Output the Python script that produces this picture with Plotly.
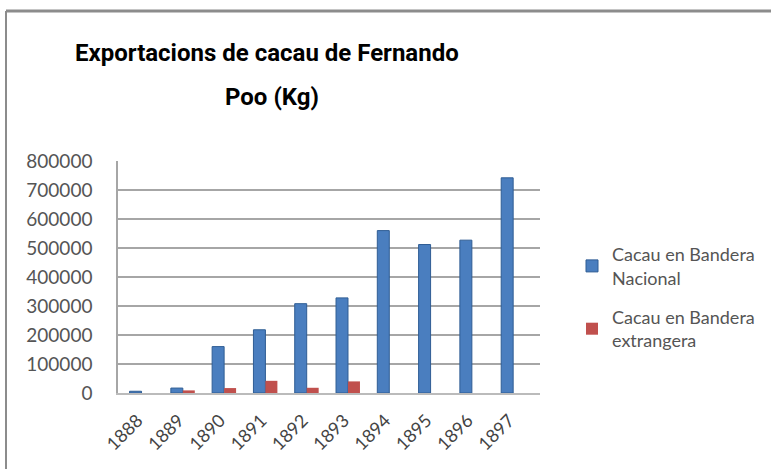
import plotly.graph_objects as go

years = ["1888", "1889", "1890", "1891", "1892", "1893", "1894", "1895", "1896", "1897"]
nacional = [6000, 17000, 160000, 218000, 308000, 328000, 560000, 512000, 527000, 742000]
extrangera = [0, 9000, 17000, 42000, 18000, 40000, 0, 0, 0, 0]
y_ticks = [0, 100000, 200000, 300000, 400000, 500000, 600000, 700000, 800000]
title_lines = ["Exportacions de cacau de Fernando", "Poo (Kg)"]

W, H = 771, 469
L, R, T, B = 118, 231, 161, 76
pw, ph = W - L - R, H - T - B

def px(x):
    return (x - L) / pw

def py(y):
    return (H - B - y) / ph

fig = go.Figure()
fig.add_trace(go.Bar(x=years, y=nacional, name="Cacau en Bandera<br>Nacional", legendgroup="a",
                     marker=dict(color="#4A7EBF", line=dict(color="#2F5D94", width=1))))
fig.add_trace(go.Bar(x=years, y=extrangera, name="Cacau en Bandera<br>extrangera", legendgroup="b",
                     marker=dict(color="#C0504D", line=dict(width=0))))

title_font = dict(family="Roboto, Arial, sans-serif", size=24, color="black", weight="bold")
fig.update_layout(
    width=W, height=H,
    margin=dict(l=L, r=R, t=T, b=B, autoexpand=False),
    paper_bgcolor="white", plot_bgcolor="white",
    barmode="group", bargap=0.42, bargroupgap=0,
    showlegend=True,
    legend=dict(x=px(572), xanchor="left", y=py(236), yanchor="top",
                font=dict(family="Lato, sans-serif", size=18, color="#555555"),
                tracegroupgap=13, itemwidth=30, bgcolor="rgba(0,0,0,0)"),
    xaxis=dict(tickangle=-45, tickfont=dict(family="Lato, sans-serif", size=18, color="#444444"),
               range=[-0.57, 9.65], ticklabelstandoff=8, ticklabelshift=-4,
               showline=True, linecolor="#BBBBBB", linewidth=2, ticks="", showgrid=False),
    yaxis=dict(range=[0, 800000], tickvals=y_ticks, ticktext=[str(v) for v in y_ticks],
               tickfont=dict(family="Lato, sans-serif", size=19, color="#555555"),
               showgrid=True, gridcolor="#A6A6A6", gridwidth=1.5,
               showline=True, linecolor="#A6A6A6", linewidth=1.5, zeroline=False,
               ticks="", ticklabelstandoff=20),
    annotations=[
        dict(text=title_lines[0], xref="paper", yref="paper", x=px(267), y=py(53),
             xanchor="center", yanchor="middle", showarrow=False, font=title_font),
        dict(text=title_lines[1], xref="paper", yref="paper", x=px(272), y=py(97),
             xanchor="center", yanchor="middle", showarrow=False, font=title_font),
    ],
    shapes=[
        dict(type="line", xref="paper", yref="paper", x0=px(6), x1=px(6), y0=py(470), y1=py(11),
             line=dict(color="#8C8C8C", width=2)),
        dict(type="line", xref="paper", yref="paper", x0=px(6), x1=px(775), y0=py(11), y1=py(11),
             line=dict(color="#8C8C8C", width=3)),
    ],
)
fig.write_html("out.html", config={"displayModeBar": False},
               post_script="document.body.style.margin='0';document.body.style.overflow='hidden';")
